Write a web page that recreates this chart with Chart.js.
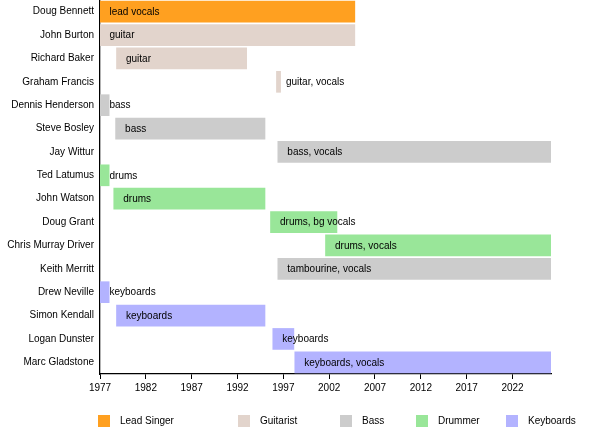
<!DOCTYPE html>
<html>
<head>
<meta charset="utf-8">
<script src="https://cdn.jsdelivr.net/npm/chart.js@4"></script>
<style>
  html, body { margin: 0; padding: 0; background: #fff; }
  #wrap { width: 600px; height: 433px; }
</style>
</head>
<body>
<div id="wrap"><canvas id="myChart" width="600" height="433"></canvas></div>
<script>
// data
const present = 2026.2
const members = ['Doug Bennett','John Burton','Richard Baker','Graham Francis','Dennis Henderson','Steve Bosley','Jay Wittur','Ted Latumus','John Watson','Doug Grant','Chris Murray Driver','Keith Merritt','Drew Neville','Simon Kendall','Logan Dunster','Marc Gladstone']
const starts = [1977, 1977, 1978.8, 1996.25, 1977, 1978.7, 1996.4, 1977, 1978.5, 1995.6, 2001.6, 1996.4, 1977, 1978.8, 1995.85, 1998.25]
const ends = [2004.8, 2004.8, 1993.0, 1996.7, 1978.0, 1995.0, present, 1978.0, 1995.0, 2002.85, present, present, 1978.0, 1995.0, 1998.15, present]
const roles = ['Lead Singer','Guitarist','Guitarist','Guitarist','Bass','Bass','Bass','Drummer','Drummer','Drummer','Drummer','Bass','Keyboards','Keyboards','Keyboards','Keyboards']
const barTexts = ['lead vocals','guitar','guitar','guitar, vocals','bass','bass','bass, vocals','drums','drums','drums, bg vocals','drums, vocals','tambourine, vocals','keyboards','keyboards','keyboards','keyboards, vocals']
const roleNames = ['Lead Singer','Guitarist','Bass','Drummer','Keyboards']
const roleColors = ['#ffa020','#e2d4cc','#cccccc','#99e699','#b3b3ff']
const yearTicks = [1977, 1982, 1987, 1992, 1997, 2002, 2007, 2012, 2017, 2022]

const fontFam = '"Liberation Sans", Arial, sans-serif'
const legendX = [98, 238, 340, 416, 506]

const datasets = roleNames.map((r, k) => ({
    label: r,
    data: members.map((m, i) => roles[i] === r ? [starts[i], ends[i]] : null),
    backgroundColor: roleColors[k],
    borderWidth: 0,
    barThickness: 21,
    grouped: false
}))

// text on bars
const barLabels = {
    id: 'barLabels',
    afterDatasetsDraw(chart) {
        const ctx = chart.ctx
        const xs = chart.scales.x, ys = chart.scales.y
        ctx.save()
        ctx.font = '10px ' + fontFam
        ctx.fillStyle = '#000'
        ctx.textAlign = 'left'
        ctx.textBaseline = 'middle'
        members.forEach((m, i) => {
            ctx.fillText(barTexts[i], xs.getPixelForValue(starts[i]) + 9.5, ys.getPixelForValue(i) + 0.5)
        })
        ctx.restore()
    }
}

// legend in fixed columns at the bottom
const colLegend = {
    id: 'colLegend',
    afterDraw(chart) {
        const ctx = chart.ctx
        ctx.save()
        ctx.font = '10px ' + fontFam
        ctx.textBaseline = 'middle'
        chart.data.datasets.forEach((ds, k) => {
            ctx.fillStyle = ds.backgroundColor
            ctx.fillRect(legendX[k], 415, 12, 12)
            ctx.fillStyle = '#000'
            ctx.fillText(ds.label, legendX[k] + 22, 421.5)
        })
        ctx.restore()
    }
}

const ctx = document.getElementById('myChart').getContext('2d')
const myChart = new Chart(ctx, {
    type: 'bar',
    data: { labels: members, datasets: datasets },
    options: {
        indexAxis: 'y',
        responsive: false,
        animation: false,
        layout: { padding: { top: -2, right: 49, left: 0, bottom: 0 } },
        plugins: { legend: { display: false }, tooltip: { enabled: false } },
        scales: {
            x: {
                type: 'linear',
                min: 1977,
                max: present,
                afterBuildTicks: (scale) => { scale.ticks = yearTicks.map(v => ({ value: v })) },
                afterFit: (scale) => { scale.height = 59; scale.paddingTop = 0; scale.paddingBottom = 0 },
                grid: { drawOnChartArea: false, drawTicks: true, tickLength: 5, color: '#000' },
                border: { display: true, color: '#000', width: 1.3 },
                ticks: { color: '#000', font: { family: fontFam, size: 10 }, padding: 3, maxRotation: 0, autoSkip: false, callback: v => String(v) }
            },
            y: {
                offset: true,
                afterFit: (scale) => { scale.width = 100; scale.paddingTop = -2; scale.paddingBottom = 0 },
                grid: { drawOnChartArea: false, drawTicks: false },
                border: { display: true, color: '#000', width: 1.3 },
                ticks: { color: '#000', font: { family: fontFam, size: 10 }, padding: 6, autoSkip: false }
            }
        }
    },
    plugins: [barLabels, colLegend]
})
</script>
</body>
</html>
